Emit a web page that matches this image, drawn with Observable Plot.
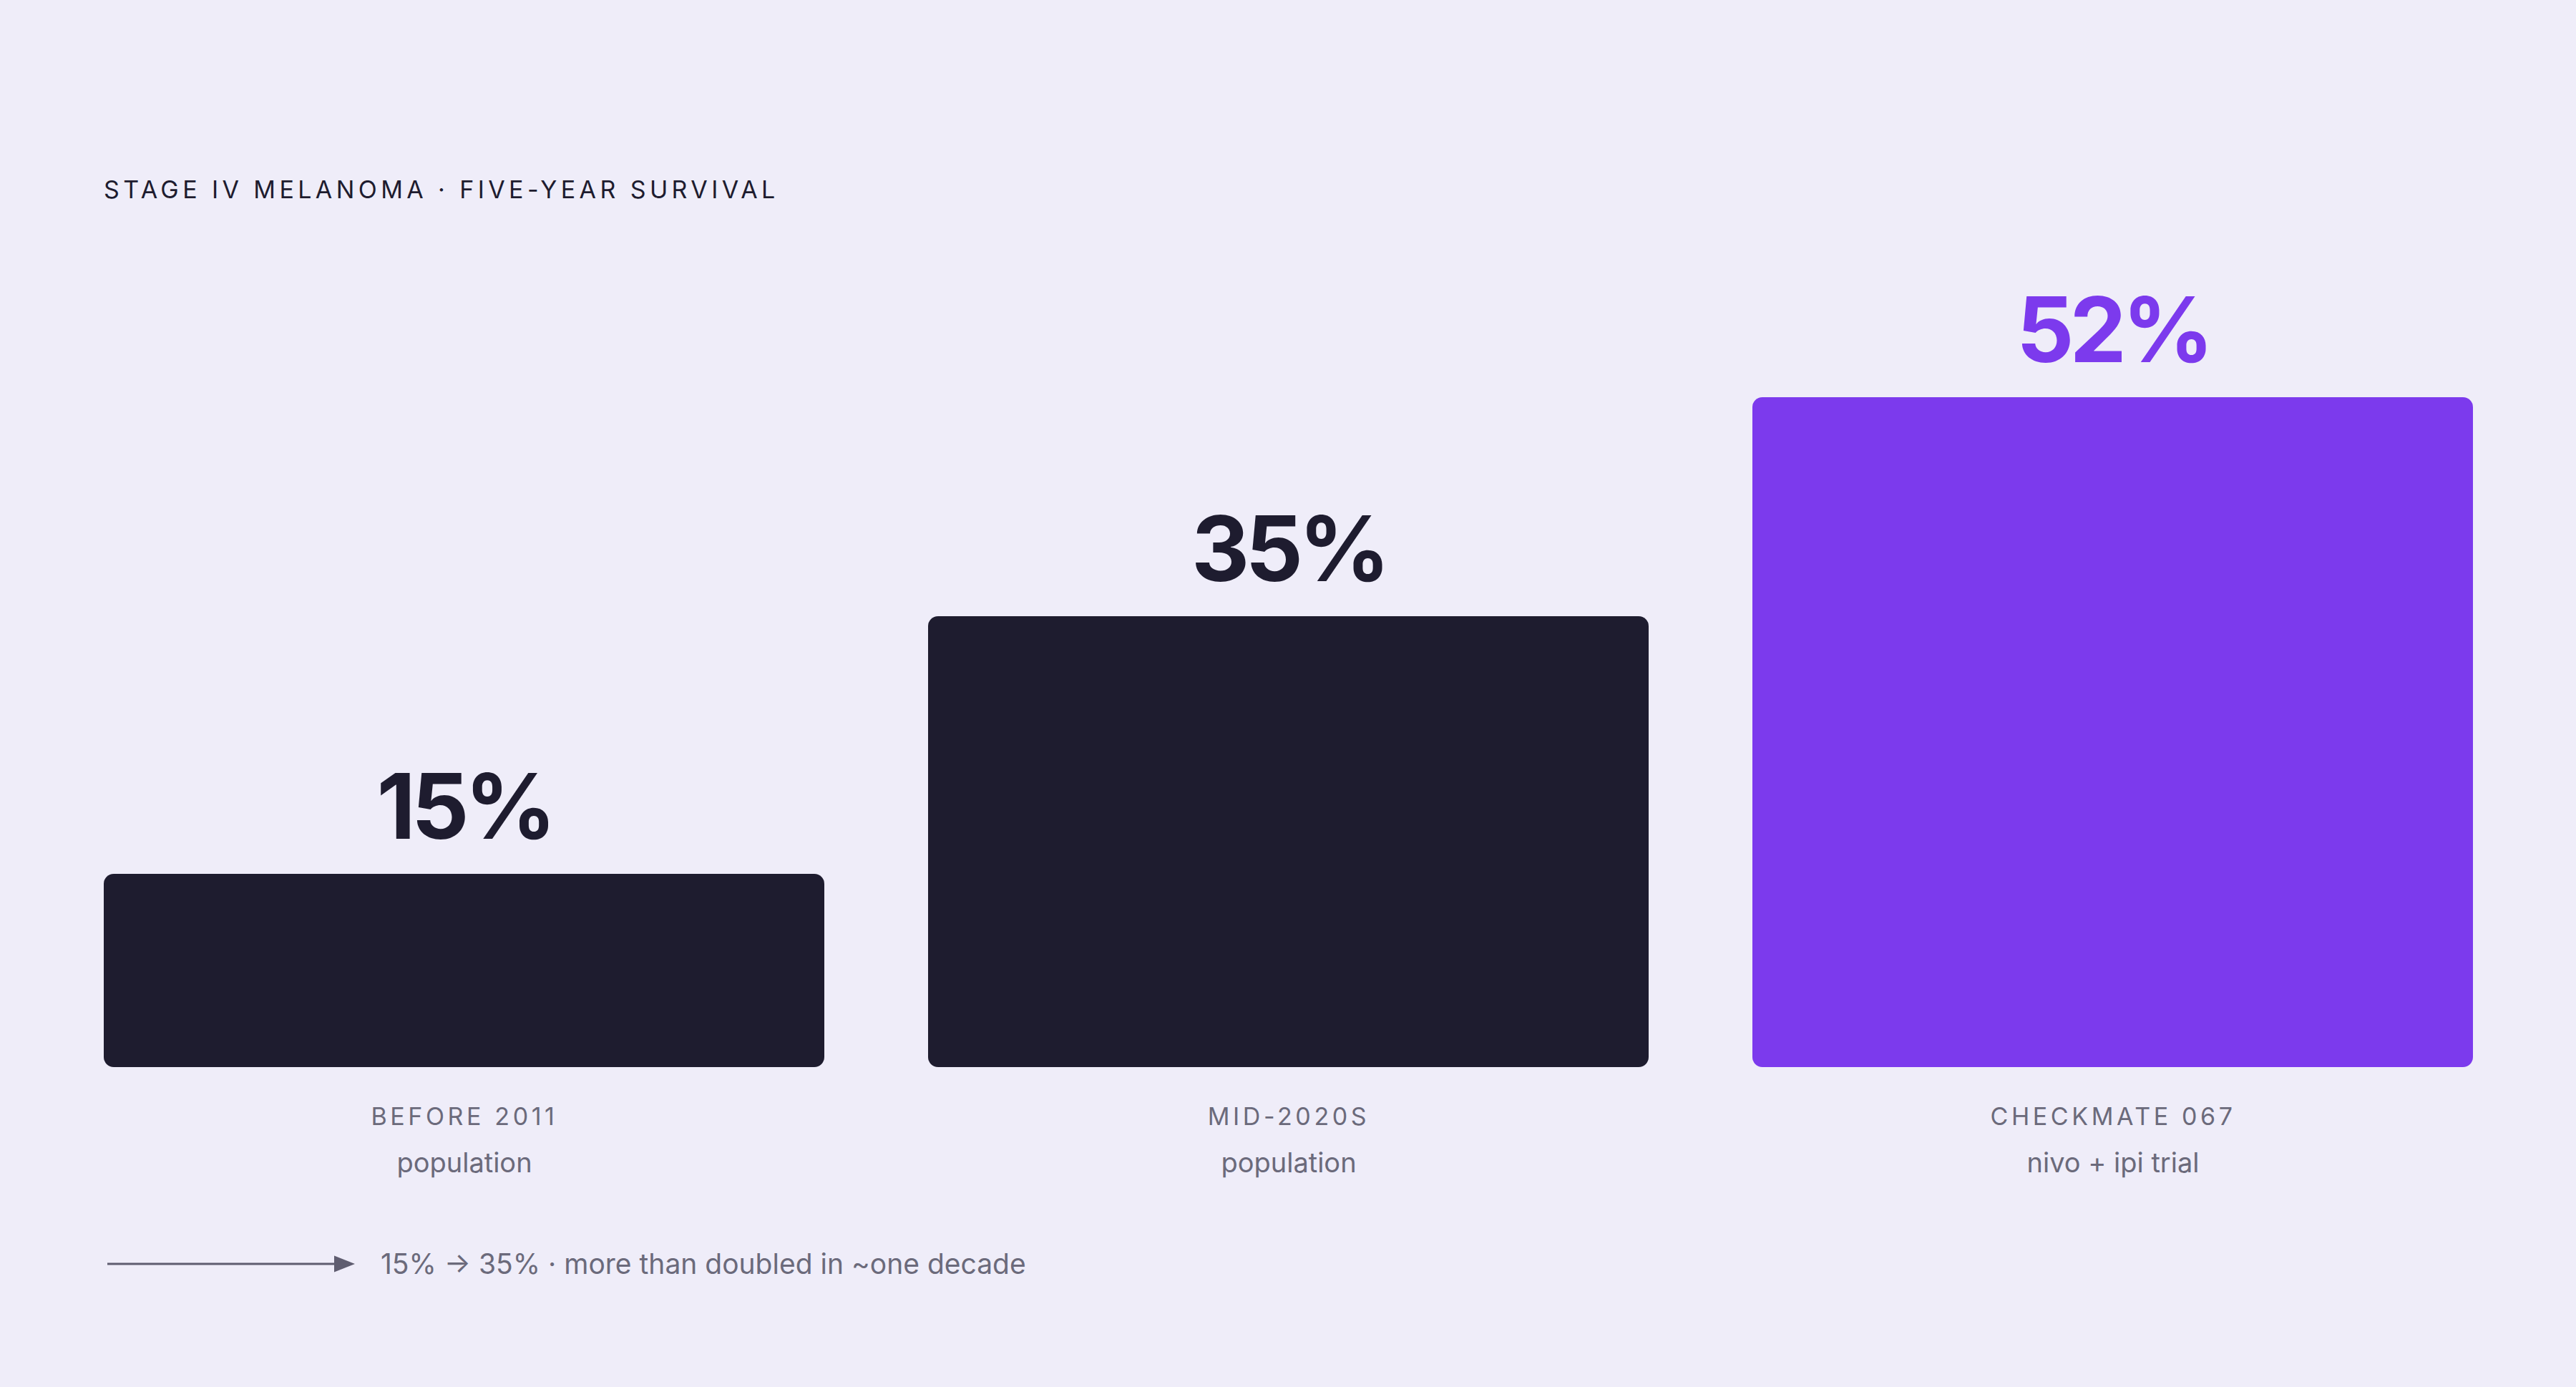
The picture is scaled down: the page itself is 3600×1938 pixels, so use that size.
<!DOCTYPE html>
<html>
<head>
<meta charset="utf-8">
<script src="https://cdn.jsdelivr.net/npm/d3@7"></script>
<script src="https://cdn.jsdelivr.net/npm/@observablehq/plot@0.6"></script>
<style>
  html, body { margin: 0; padding: 0; background: #efedf9; }
  body { width: 3600px; height: 1938px; overflow: hidden; font-family: Inter, "DejaVu Sans", sans-serif; }
  #title { box-sizing: border-box; height: 320px; padding: 248px 0 0 145px; font-size: 34px; line-height: 34px;
           letter-spacing: 5.4px; color: #1e1c2f; font-weight: 400; }
  #chart svg { display: block; }
  #footer { box-sizing: border-box; height: 238px; padding: 46px 0 0 150px; display: flex; align-items: flex-start;
            font-size: 39px; line-height: 40px; color: #6b6a7b; }
  #footer svg { display: block; margin-right: 36px; }
</style>
</head>
<body>
<div id="title">STAGE IV MELANOMA · FIVE-YEAR SURVIVAL</div>
<div id="chart"></div>
<div id="footer"><svg width="346" height="40" viewBox="0 0 346 40"><line x1="0" y1="20" x2="320" y2="20" stroke="#5f5d70" stroke-width="3"/><path d="M317,8.5 L346,20 L317,31.5 Z" fill="#5f5d70"/></svg><span>15% → 35% · more than doubled in ~one decade</span></div>
<script>
const categories = ["BEFORE 2011", "MID-2020S", "CHECKMATE 067"];
const subtitles = ["population", "population", "nivo + ipi trial"];
const values = [15, 35, 52];
const valueLabels = ["15%", "35%", "52%"];
const highlighted = [false, false, true];

const dark = "#1e1c2f";
const purple = "#7c3aed";

const data = categories.map((c, i) => ({
  category: c, sub: subtitles[i], value: values[i], label: valueLabels[i],
  color: highlighted[i] ? purple : dark
}));

const chart = Plot.plot({
  width: 3600,
  height: 1380,
  marginLeft: 144,
  marginRight: 144,
  marginTop: 235,
  marginBottom: 209,
  style: { background: "transparent", fontFamily: "Inter, sans-serif", overflow: "visible" },
  x: { domain: categories, paddingInner: 0.126, paddingOuter: 0, axis: null },
  y: { domain: [0, d3.max(values)], axis: null },
  color: { type: "identity" },
  marks: [
    Plot.barY(data, { x: "category", y: "value", fill: "color", rx: 14 }),
    Plot.text(data, { x: "category", y: "value", text: "label", dy: -50, lineAnchor: "bottom",
      fontSize: 126, fontWeight: 700, fill: "color" }),
    Plot.text(data, { x: "category", frameAnchor: "bottom", text: "category", dy: 80, lineAnchor: "bottom",
      fontSize: 34, fill: "#6b6a7b" }),
    Plot.text(data, { x: "category", frameAnchor: "bottom", text: "sub", dy: 146, lineAnchor: "bottom",
      fontSize: 38, fill: "#6b6a7b" })
  ]
});
document.getElementById("chart").appendChild(chart);

// typographic tracking for value labels and category labels
d3.select(chart).selectAll("text").each(function () {
  const t = this.textContent;
  if (valueLabels.includes(t)) {
    d3.select(this).style("letter-spacing", "-6px");
  } else if (categories.includes(t)) {
    d3.select(this).style("letter-spacing", "4.6px");
  }
});
</script>
</body>
</html>
